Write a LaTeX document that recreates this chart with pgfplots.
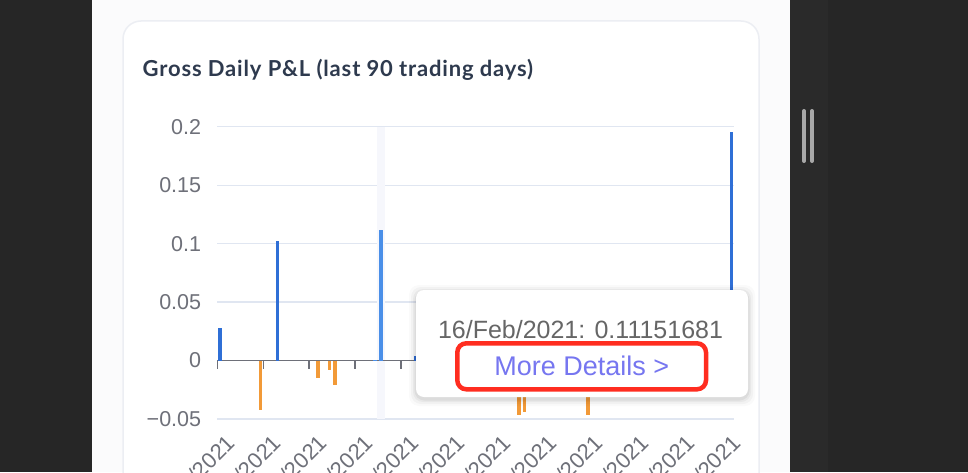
\documentclass[border=0pt]{standalone}
\usepackage{pgfplots}
\pgfplotsset{compat=1.18}
\usepackage{fontspec}
\setmainfont{Liberation Sans}
\newfontfamily\titlefont[LetterSpace=3.8]{Lato}
\definecolor{darkbg}{HTML}{262626}
\definecolor{darkbg2}{HTML}{2A2A2A}
\definecolor{pagebg}{HTML}{FBFBFC}
\definecolor{cardborder}{HTML}{ECEEF3}
\definecolor{titlecol}{HTML}{2E3A4E}
\definecolor{axisgray}{HTML}{6E7079}
\definecolor{gridcol}{HTML}{E0E6F1}
\definecolor{barblue}{HTML}{2F6FD6}
\definecolor{barlight}{HTML}{4A8FE8}
\definecolor{barorange}{HTML}{F29A38}
\definecolor{bandcol}{HTML}{F6F7FC}
\definecolor{tiptext}{HTML}{666666}
\definecolor{linkcol}{RGB}{118,118,240}
\definecolor{redbox}{HTML}{FF2D20}
\definecolor{scroll}{HTML}{A8A8A8}
\begin{document}
\begin{tikzpicture}[x=1pt,y=1pt]
\useasboundingbox (0,0) rectangle (968,472);
\clip (0,0) rectangle (968,472);
% backgrounds
\fill[pagebg] (0,0) rectangle (968,472);
\fill[darkbg] (0,0) rectangle (92,472);
\fill[darkbg2] (790,0) rectangle (828,472);
\fill[darkbg] (828,0) rectangle (968,472);
\draw[scroll, line width=4pt, line cap=round] (804,361) -- (804,311);
\draw[scroll, line width=4pt, line cap=round] (812,361) -- (812,311);
% card
\draw[cardborder, fill=white, line width=1.5pt, rounded corners=18pt] (123,-40) rectangle (759,451);
% title
\node[anchor=base west, inner sep=0pt, text=titlecol, font=\titlefont\bfseries\fontsize{22}{26}\selectfont] at (142.5,395.5) {Gross Daily P\&L (last 90 trading days)};
\coordinate (axsw) at (217.3pt,53pt);
\begin{axis}[
  at={(axsw)}, anchor=south west,
  width=517pt, height=292.3pt, scale only axis,
  xmin=-0.5, xmax=89.5, ymin=-0.05, ymax=0.2,
  axis line style={draw=none},
  ytick={-0.05,0,0.05,0.1,0.15,0.2},
  yticklabels={−0.05,0,0.05,0.1,0.15,0.2},
  ymajorgrids, grid style={gridcol, line width=1.2pt},
  major tick length=0pt,
  yticklabel style={font=\fontsize{21.5}{24}\selectfont, text=axisgray, anchor=east, inner sep=0pt, xshift=-16pt},
  xtick={0,8,16,24,32,40,48,56,64,72,80,88},
  xticklabels={05/Jan/2021,15/Jan/2021,28/Jan/2021,09/Feb/2021,22/Feb/2021,04/Mar/2021,16/Mar/2021,26/Mar/2021,08/Apr/2021,20/Apr/2021,30/Apr/2021,12/May/2021},
  xticklabel style={font=\fontsize{22}{26}\selectfont, text=axisgray, inner sep=0pt, xshift=5pt, yshift=-14pt, rotate=45, anchor=north east},
  clip=false,
]
\fill[bandcol] (axis cs:27.35,-0.05) rectangle (axis cs:28.65,0.2);
\draw[axisgray, line width=1.5pt] (axis cs:-0.5,0) -- (axis cs:89.5,0);
\pgfplotsinvokeforeach{-0.5,7.5,15.5,23.5,31.5,39.5,47.5,55.5,63.5,71.5,79.5,87.5}{
  \draw[axisgray, line width=1.5pt] (axis cs:#1,0) -- ++(0pt,-8pt);
}
\addplot[ycomb, barblue, line width=3.6pt, mark=none] coordinates {
 (0,0.0277) (10,0.1026) (34,0.004) (89,0.1952)
};
\addplot[ycomb, barlight, line width=3.6pt, mark=none] coordinates {
 (27,0.0008) (28,0.1115)
};
\addplot[ycomb, barorange, line width=3.6pt, mark=none] coordinates {
 (7,-0.042) (17,-0.015) (19,-0.008) (20,-0.0208) (52,-0.0464) (53,-0.0444) (64,-0.0464)
};
\end{axis}

% tooltip
\foreach \s/\o in {7/0.02,5/0.03,3/0.04,1.5/0.05}{
  \fill[black, opacity=\o, rounded corners=10pt] (416-\s,75-\s-2) rectangle (748+\s,182+\s-2);
}
\fill[white, rounded corners=8pt] (416,75) rectangle (748,182);
\node[anchor=base, inner sep=0pt, text=tiptext, font=\fontsize{25}{30}\selectfont] at (580.5,134) {16/Feb/2021: 0.11151681};
\node[anchor=base, inner sep=0pt, text=linkcol, font=\fontsize{27}{32}\selectfont] at (581.7,97) {More Details >};
\draw[redbox, line width=4.5pt, rounded corners=9pt] (457.3,82.7) rectangle (706,128.7);
\end{tikzpicture}
\end{document}
